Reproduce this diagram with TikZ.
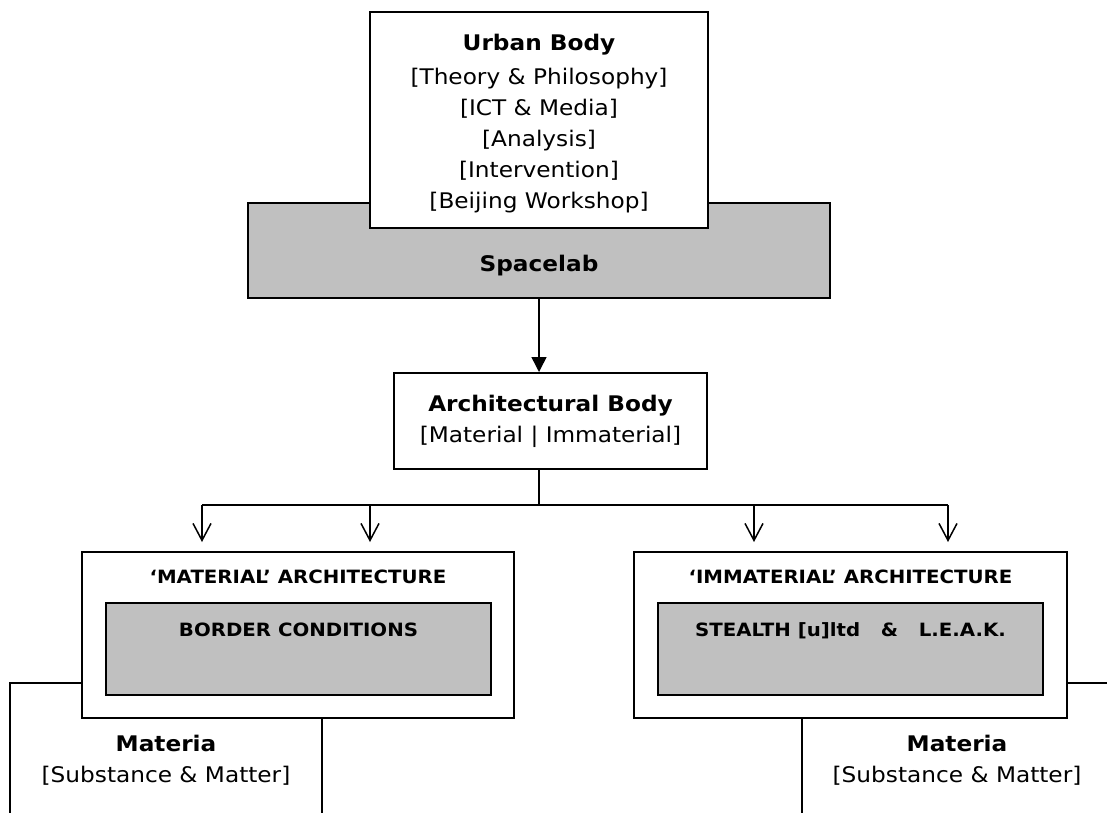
\documentclass[tikz,border=0pt]{standalone}
\usepackage{fontspec}
\setmainfont{DejaVu Sans}[FakeStretch=1.08]
\usepackage{tikz}
\usetikzlibrary{shapes, arrows.meta, positioning}
\definecolor{labgray}{RGB}{192,192,192}
\tikzstyle{block} = [draw, fill=white, rectangle, line width=2pt, align=center, inner sep=0pt]
\tikzstyle{grayblock} = [block, fill=labgray]
\tikzstyle{link} = [line width=1.5pt]
\newcommand{\bodysize}{\fontsize{21.5pt}{31pt}\selectfont}
\newcommand{\capsize}{\fontsize{18.3pt}{22pt}\selectfont\bfseries}

\begin{document}
\begin{tikzpicture}[x=1pt, y=1pt, font=\bodysize]
  \useasboundingbox (0,0) rectangle (1107,-812);
  \clip (0,0) rectangle (1107,-812);

  % materia boxes, partly hidden by the architecture boxes
  \node[block, minimum width=312pt, minimum height=155pt] (materialeft) at (166,-760.5)
    {\textbf{Materia}\\ {[}Substance \& Matter{]}};
  \node[block, minimum width=310pt, minimum height=155pt] (materiaright) at (957,-760.5)
    {\textbf{Materia}\\ {[}Substance \& Matter{]}};

  \node[grayblock, minimum width=582pt, minimum height=95pt, text height=47pt, text depth=6pt] (spacelab) at (539,-250.5) {\textbf{Spacelab}};
  \node[block, minimum width=338pt, minimum height=216pt] (urban) at (539,-120)
    {\rule{0pt}{24pt}\textbf{Urban Body}\\[3pt] {[}Theory \& Philosophy{]}\\ {[}ICT \& Media{]}\\ {[}Analysis{]}\\ {[}Intervention{]}\\ {[}Beijing Workshop{]}};
  \node[block, minimum width=313pt, minimum height=96pt, below=73pt of spacelab, xshift=11.5pt] (arch)
    {\textbf{Architectural Body}\\ {[}Material \textbar\ Immaterial{]}};

  \node[block, minimum width=432pt, minimum height=166pt] (matarch) at (298,-635) {};
  \node[font=\capsize, anchor=base] (mattitle) at (298,-583) {‘MATERIAL’ ARCHITECTURE};
  \node[grayblock, minimum width=385pt, minimum height=92pt, font=\capsize, text height=14pt, text depth=40pt] (border) at (298.5,-649) {BORDER CONDITIONS};

  \node[block, minimum width=433pt, minimum height=166pt] (immarch) at (850.5,-635) {};
  \node[font=\capsize, anchor=base] (immtitle) at (850.5,-583) {‘IMMATERIAL’ ARCHITECTURE};
  \node[grayblock, minimum width=385pt, minimum height=92pt, font=\capsize, text height=14pt, text depth=40pt] (stealth) at (850.5,-649) {STEALTH [u]ltd\ \ \ \&\ \ \ L.E.A.K.};

  \draw[link, -{Triangle[length=15pt,width=15pt]}] (spacelab.south) -- (spacelab.south |- arch.north);

  \coordinate (split) at (539,-505);
  \coordinate (f1) at (202,-505);
  \coordinate (f2) at (370,-505);
  \coordinate (f3) at (754,-505);
  \coordinate (f4) at (948,-505);
  \draw[link] (split |- arch.south) -- (split);
  \draw[link] (f1) -- (f4);
  \foreach \f/\b in {f1/matarch, f2/matarch, f3/immarch, f4/immarch}
    \draw[link, -{Straight Barb[length=17pt,width=18pt]}, shorten >=9pt] (\f) -- (\f |- \b.north);
\end{tikzpicture}
\end{document}
